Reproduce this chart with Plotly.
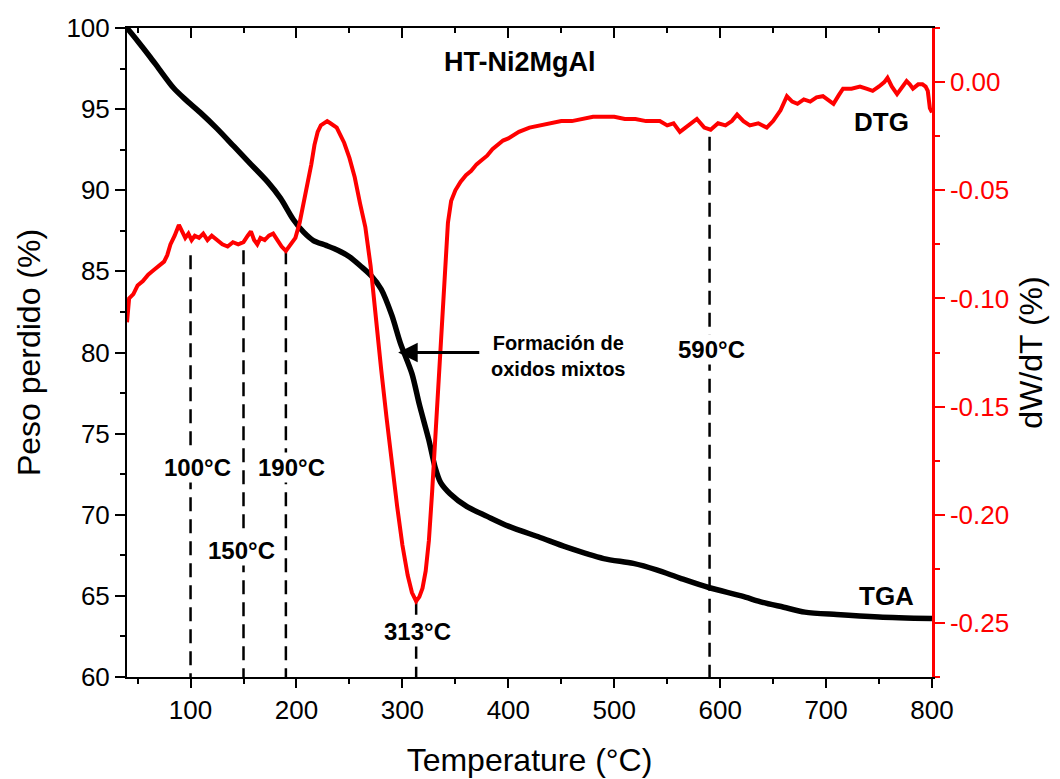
import plotly.graph_objects as go

# TGA curve (left axis, %)
TGA_T = [40, 50, 62, 70, 84, 95, 109, 125, 141, 157, 173, 185, 197, 207, 216, 228, 239, 250, 261, 271,
         280, 290, 298, 309, 316, 325, 331, 336, 345, 361, 380, 400, 430, 455, 490, 518, 540, 562, 590,
         620, 640, 660, 680, 710, 750, 800]
TGA_V = [100.0, 99.2, 98.2, 97.5, 96.3, 95.6, 94.8, 93.8, 92.7, 91.6, 90.5, 89.5, 88.2, 87.4, 86.9, 86.6,
         86.3, 85.9, 85.3, 84.7, 83.9, 82.3, 80.6, 78.7, 76.8, 74.6, 72.9, 72.0, 71.3, 70.5, 69.9, 69.3,
         68.6, 68.0, 67.3, 67.0, 66.6, 66.1, 65.5, 65.0, 64.6, 64.3, 64.0, 63.85, 63.7, 63.6]

# DTG curve (right axis, dW/dT %)
DTG_T = [40, 42, 46, 50, 55, 60, 65, 70, 75, 78, 81, 85, 89, 92, 95, 98, 101, 104, 108, 112, 116, 120,
         125, 130, 135, 140, 145, 150, 154, 157, 160, 163, 166, 170, 174, 178, 182, 186, 190, 194, 199,
         203, 206, 210, 214, 217, 220, 223, 226, 229, 232, 235, 238, 241, 245, 250, 255, 260, 265, 270,
         275, 280, 285, 290, 295, 300, 305, 309, 313, 316, 319, 322, 325, 328, 331, 334, 337, 340, 343,
         346, 350, 355, 360, 365, 370, 375, 380, 385, 390, 395, 400, 410, 420, 430, 440, 450, 460, 470,
         480, 490, 500, 510, 520, 530, 543, 550, 556, 562, 570, 578, 585, 591, 598, 605, 611, 616, 622,
         628, 636, 644, 650, 657, 663, 668, 673, 679, 685, 691, 697, 702, 707, 712, 716, 724, 732, 738,
         744, 750, 755, 758, 762, 767, 772, 776, 779, 782, 787, 791, 794, 796, 798, 800]
DTG_V = [-0.111, -0.100, -0.098, -0.094, -0.092, -0.089, -0.087, -0.085, -0.083, -0.080, -0.075, -0.071,
         -0.066, -0.069, -0.072, -0.070, -0.073, -0.071, -0.072, -0.070, -0.073, -0.071, -0.073, -0.075,
         -0.076, -0.074, -0.075, -0.074, -0.071, -0.069, -0.073, -0.075, -0.072, -0.073, -0.071, -0.070,
         -0.073, -0.076, -0.078, -0.075, -0.072, -0.065, -0.058, -0.049, -0.038, -0.029, -0.023, -0.020,
         -0.019, -0.018, -0.019, -0.020, -0.021, -0.024, -0.028, -0.035, -0.044, -0.056, -0.067, -0.085,
         -0.110, -0.133, -0.155, -0.176, -0.196, -0.214, -0.228, -0.236, -0.240, -0.238, -0.234, -0.226,
         -0.212, -0.190, -0.165, -0.138, -0.110, -0.085, -0.065, -0.055, -0.050, -0.046, -0.043, -0.041,
         -0.038, -0.036, -0.034, -0.031, -0.029, -0.027, -0.026, -0.023, -0.021, -0.020, -0.019, -0.018,
         -0.018, -0.017, -0.016, -0.016, -0.016, -0.017, -0.017, -0.018, -0.018, -0.020, -0.019, -0.023,
         -0.020, -0.017, -0.021, -0.022, -0.019, -0.020, -0.018, -0.015, -0.018, -0.020, -0.019, -0.021,
         -0.018, -0.013, -0.0065, -0.009, -0.010, -0.008, -0.009, -0.007, -0.0065, -0.008, -0.010, -0.006,
         -0.003, -0.003, -0.002, -0.003, -0.004, -0.002, 0.000, 0.002, -0.002, -0.0055, -0.002, 0.0005,
         -0.001, -0.003, -0.001, -0.001, -0.002, -0.004, -0.012, -0.014]

# Right-axis tick labels (ASCII hyphen as in the original)
Y2_TICKS = [0.00, -0.05, -0.10, -0.15, -0.20, -0.25]
Y2_TICKTEXT = ["0.00", "-0.05", "-0.10", "-0.15", "-0.20", "-0.25"]

# Marked temperatures: dashed line from curve down to axis, label position
MARK_T = [100, 150, 190, 313, 590]
MARK_TOP = [86.0, 86.3, 86.3, 64.7, 93.3]
MARK_LABELS = ["100°C", "150°C", "190°C", "313°C", "590°C"]
LABEL_X = [107, 148, 195, 314, 592]
LABEL_Y = [72.9, 67.8, 72.9, 62.8, 80.2]

FONT = "Liberation Sans, Arial, sans-serif"
Y_MIN = 60

fig = go.Figure()

fig.add_trace(go.Scatter(x=TGA_T, y=TGA_V, mode="lines",
                         line=dict(color="black", width=5.5, shape="spline", smoothing=0.8),
                         yaxis="y", showlegend=False, hoverinfo="skip"))

for t, top in zip(MARK_T, MARK_TOP):
    fig.add_trace(go.Scatter(x=[t, t], y=[top, Y_MIN], mode="lines",
                             line=dict(color="black", width=2.5, dash="14px,8px"),
                             yaxis="y", showlegend=False, hoverinfo="skip"))

fig.add_trace(go.Scatter(x=DTG_T, y=DTG_V, mode="lines", line=dict(color="#ff0000", width=4),
                         yaxis="y2", showlegend=False, hoverinfo="skip"))

# invisible trace to activate the top mirror axis
fig.add_trace(go.Scatter(x=[40, 800], y=[60, 60], mode="markers", marker=dict(opacity=0),
                         xaxis="x2", yaxis="y", showlegend=False, hoverinfo="skip"))

annotations = []
for lab, lx, ly in zip(MARK_LABELS, LABEL_X, LABEL_Y):
    annotations.append(dict(x=lx, y=ly, xref="x", yref="y", text="<b>%s</b>" % lab, showarrow=False,
                            font=dict(family=FONT, size=24, color="black"), bgcolor="white",
                            borderpad=1))

annotations += [
    dict(x=411, y=97.9, xref="x", yref="y", text="<b>HT-Ni2MgAl</b>", showarrow=False,
         font=dict(family=FONT, size=27, color="black")),
    dict(x=752, y=94.2, xref="x", yref="y", text="<b>DTG</b>", showarrow=False,
         font=dict(family=FONT, size=26, color="black")),
    dict(x=757, y=65.0, xref="x", yref="y", text="<b>TGA</b>", showarrow=False,
         font=dict(family=FONT, size=26, color="black")),
    dict(x=447, y=79.8, xref="x", yref="y", text="<b>Formación de<br>oxidos mixtos</b>",
         showarrow=False, align="center", font=dict(family=FONT, size=20, color="black")),
    dict(x=296, y=80.0, xref="x", yref="y", ax=374, ay=80.0, axref="x", ayref="y", text="",
         showarrow=True, arrowhead=2, arrowsize=1.3, arrowwidth=3, arrowcolor="black"),
]

fig.update_layout(
    width=1060, height=779,
    margin=dict(l=127, r=128, t=28, b=102),
    paper_bgcolor="white", plot_bgcolor="white",
    font=dict(family=FONT, color="black"),
    showlegend=False,
    annotations=annotations,
    xaxis=dict(range=[40, 800], tick0=0, dtick=100, ticks="outside", ticklen=9, tickwidth=2,
               tickcolor="black", showline=True, linecolor="black", linewidth=2, showgrid=False,
               zeroline=False, tickfont=dict(family=FONT, size=26, color="black"), automargin=False,
               minor=dict(ticks="outside", ticklen=5, dtick=50, tickwidth=2, tickcolor="black"),
               title=dict(text="Temperature (°C)", font=dict(family=FONT, size=32, color="black"),
                          standoff=24)),
    xaxis2=dict(range=[40, 800], overlaying="x", side="top", anchor="y", tick0=0, dtick=100,
                ticks="inside", ticklen=10, tickwidth=2, tickcolor="black", showline=True,
                linecolor="black", linewidth=2, showgrid=False, zeroline=False, showticklabels=False,
                automargin=False,
                minor=dict(ticks="inside", ticklen=5, dtick=50, tickwidth=2, tickcolor="black")),
    yaxis=dict(range=[60, 100], dtick=5, ticks="outside", ticklen=10, tickwidth=2, tickcolor="black",
               showline=True, linecolor="black", linewidth=2, showgrid=False, zeroline=False,
               tickfont=dict(family=FONT, size=26, color="black"), automargin=False,
               minor=dict(ticks="outside", ticklen=5, dtick=2.5, tickwidth=2, tickcolor="black"),
               title=dict(text="Peso perdido (%)", font=dict(family=FONT, size=32, color="black"),
                          standoff=16)),
    yaxis2=dict(range=[-0.27505, 0.02505], overlaying="y", side="right", anchor="x",
                tickvals=Y2_TICKS, ticktext=Y2_TICKTEXT, ticks="outside", ticklen=10, tickwidth=2,
                tickcolor="#ff0000", showline=True, linecolor="#ff0000", linewidth=2.5,
                showgrid=False, zeroline=False, tickfont=dict(family=FONT, size=26, color="#ff0000"),
                automargin=False,
                minor=dict(ticks="outside", ticklen=5, tick0=0, dtick=0.025, tickwidth=2,
                           tickcolor="#ff0000"),
                title=dict(text="dW/dT (%)", font=dict(family=FONT, size=32, color="black"),
                           standoff=12)),
)

fig.write_html("out.html")
